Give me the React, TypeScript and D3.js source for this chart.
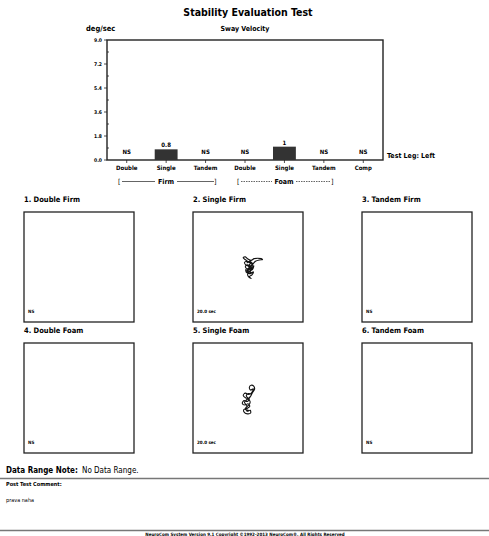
import React from "react";
import * as d3 from "d3";

const categories = ["Double", "Single", "Tandem", "Double", "Single", "Tandem", "Comp"];
const barValues: (number | null)[] = [null, 0.8, null, null, 1, null, null];
const barLabels = ["NS", "0.8", "NS", "NS", "1", "NS", "NS"];
const yTicks = [0, 1.8, 3.6, 5.4, 7.2, 9.0];
const yMinorTicks = [0.9, 2.7, 4.5, 6.3, 8.1];

const panelTitles = ["1. Double Firm", "2. Single Firm", "3. Tandem Firm", "4. Double Foam", "5. Single Foam", "6. Tandem Foam"];
const panelNotes = ["NS", "20.0 sec", "NS", "NS", "20.0 sec", "NS"];

const traceSingleFirm: [number, number][] = [
  [0, 0], [0.5, 0.6], [-0.3, 1.1], [-0.9, 1.6], [-1.5, 2.1], [-1.0, 2.3], [-0.4, 1.8], [0.3, 1.5],
  [1.0, 1.9], [1.8, 2.0], [2.6, 1.9], [2.9, 1.7], [2.2, 1.6], [1.3, 1.3], [0.8, 0.8], [0.2, 0.3],
  [-0.6, 0.5], [-1.0, 0.0], [-0.5, -0.4], [0.4, -0.2], [0.9, 0.3], [0.6, -0.6], [-0.2, -0.9],
  [-0.9, -0.6], [-0.7, -1.3], [0.1, -1.5], [0.8, -1.1], [0.5, -1.8], [-0.1, -2.2], [0.3, -2.6],
  [-0.2, -2.3], [-0.5, -1.7], [-0.1, -1.0], [0.4, -0.5], [-0.3, 0.2], [0.2, 0.9], [-0.6, 1.3],
  [-1.2, 1.0], [-0.8, 0.4], [0.1, 0.1], [0.6, -0.3], [-0.4, -0.7], [0.3, -1.2], [-0.6, -1.0],
  [-0.2, -0.2], [0.7, 0.5], [0.0, 1.3], [-0.7, 0.9],
];
const traceSingleFoam: [number, number][] = [
  [0, 0], [0.6, 0.8], [1.0, 1.6], [1.5, 2.4], [1.3, 3.1], [0.7, 3.3], [0.3, 2.8], [0.6, 2.2],
  [1.2, 2.5], [0.9, 1.7], [0.2, 1.2], [-0.6, 1.5], [-1.1, 1.0], [-0.5, 0.4], [0.3, 0.2],
  [-0.2, -0.4], [-0.9, -0.2], [-1.3, -0.8], [-0.7, -1.2], [0.0, -0.9], [0.4, -1.5], [-0.3, -2.0],
  [-1.0, -2.3], [-0.8, -2.9], [-0.1, -3.2], [0.6, -3.0], [0.5, -2.4], [-0.2, -2.6], [-0.5, -1.8],
  [0.2, -1.2], [0.5, -0.5], [0.1, 0.3], [-0.4, 0.9], [0.1, 1.4], [0.8, 1.2], [0.3, 0.5], [-0.3, 0.0],
  [-0.8, -0.6], [-0.2, -1.5], [-0.7, -2.1], [0.1, -2.4],
];
const traces: ([number, number][] | null)[] = [null, traceSingleFirm, null, null, traceSingleFoam, null];

const FONT = "'Liberation Sans Narrow', 'DejaVu Sans Condensed', 'Liberation Sans', sans-serif";

export default function App() {
  const W = 489, H = 536;
  const L = 107, R = 383, T = 40, B = 160;
  const x = d3.scaleBand<number>().domain(d3.range(categories.length)).range([L, R]).padding(0);
  const y = d3.scaleLinear().domain([0, 9]).range([B, T]);
  const barW = x.bandwidth() * 0.58;

  const panelXs = [24, 193, 362];
  const panelYs = [212, 343];
  const PS = 110;
  const px = d3.scaleLinear().domain([-12.5, 12.5]).range([0, PS]);
  const py = d3.scaleLinear().domain([-12.5, 12.5]).range([PS, 0]);
  const line = d3.line<[number, number]>().x(d => px(d[0])).y(d => py(d[1])).curve(d3.curveCatmullRom);
  const traceOffsets: [number, number][] = [[0, 0], [0.4, 0], [0, 0], [0, 0], [0, -0.4], [0, 0]];

  const cx = (i: number) => (x(i) as number) + x.bandwidth() / 2;

  return (
    <svg width={W} height={H} style={{ position: "absolute", left: 0, top: 0, background: "#fff" }} fontFamily={FONT}>
      <rect width={W} height={H} fill="#fff" />
      <text x={248} y={16} textAnchor="middle" fontSize={10.5} fontWeight="bold">Stability Evaluation Test</text>
      <text x={86} y={31} fontSize={7.5} fontWeight="bold">deg/sec</text>
      <text x={245} y={31} textAnchor="middle" fontSize={7} fontWeight="bold">Sway Velocity</text>

      {/* frame */}
      <rect x={L} y={T} width={R - L} height={B - T} fill="none" stroke="#222" strokeWidth={1.4} />
      {yTicks.map(t => (
        <g key={"yt" + t}>
          <line x1={L - 3} x2={L} y1={y(t)} y2={y(t)} stroke="#222" strokeWidth={0.8} />
          <text x={L - 5} y={y(t) + 1.8} textAnchor="end" fontSize={5} fontWeight="bold">{t.toFixed(1)}</text>
        </g>
      ))}
      {yMinorTicks.map(t => (
        <line key={"ym" + t} x1={L} x2={L + 2} y1={y(t)} y2={y(t)} stroke="#222" strokeWidth={0.8} />
      ))}
      {categories.map((c, i) => (
        <g key={"c" + i}>
          <line x1={cx(i)} x2={cx(i)} y1={B} y2={B + 3} stroke="#222" strokeWidth={0.8} />
          <text x={cx(i)} y={B + 10} textAnchor="middle" fontSize={6} fontWeight="bold">{c}</text>
          {barValues[i] !== null && (
            <rect x={cx(i) - barW / 2} y={y(barValues[i] as number)} width={barW} height={B - y(barValues[i] as number)} fill="#333" />
          )}
          <text x={cx(i)} y={barValues[i] !== null ? y(barValues[i] as number) - 2 : B - 6} textAnchor="middle" fontSize={6} fontWeight="bold">{barLabels[i]}</text>
        </g>
      ))}
      <text x={387} y={158} fontSize={7} fontWeight="bold">Test Leg: Left</text>

      {/* brackets */}
      <text x={118} y={184} fontSize={7}>[</text>
      <line x1={122} x2={155} y1={181.5} y2={181.5} stroke="#222" strokeWidth={0.7} />
      <text x={166} y={184} textAnchor="middle" fontSize={7} fontWeight="bold">Firm</text>
      <line x1={177} x2={214} y1={181.5} y2={181.5} stroke="#222" strokeWidth={0.7} />
      <text x={214} y={184} fontSize={7}>]</text>
      <text x={237} y={184} fontSize={7}>[</text>
      <line x1={241} x2={272} y1={181.5} y2={181.5} stroke="#222" strokeWidth={0.7} strokeDasharray="1.5,1" />
      <text x={284} y={184} textAnchor="middle" fontSize={7} fontWeight="bold">Foam</text>
      <line x1={296} x2={330} y1={181.5} y2={181.5} stroke="#222" strokeWidth={0.7} strokeDasharray="1.5,1" />
      <text x={331} y={184} fontSize={7}>]</text>

      {/* panels */}
      {panelTitles.map((t, i) => {
        const col = i % 3, row = Math.floor(i / 3);
        const X = panelXs[col], Y = panelYs[row];
        const tr = traces[i];
        const off = traceOffsets[i];
        return (
          <g key={"p" + i}>
            <text x={X} y={Y - 10} fontSize={7.5} fontWeight="bold">{t}</text>
            <rect x={X} y={Y} width={PS} height={PS} fill="none" stroke="#222" strokeWidth={1.3} />
            <text x={X + 4} y={Y + PS - 9} fontSize={4.5} fontWeight="bold">{panelNotes[i]}</text>
            {tr && (
              <g transform={`translate(${X + px(off[0]) - px(0)},${Y + py(off[1]) - py(0)})`}>
                <path d={line(tr) as string} fill="none" stroke="#111" strokeWidth={1.1} />
              </g>
            )}
          </g>
        );
      })}

      {/* bottom */}
      <text x={6} y={473} fontSize={8} fontWeight="bold">Data Range Note:</text>
      <text x={82} y={473} fontSize={8}>No Data Range.</text>
      <line x1={0} x2={489} y1={478.5} y2={478.5} stroke="#777" strokeWidth={1.5} />
      <text x={6} y={486} fontSize={5.5} fontWeight="bold">Post Test Comment:</text>
      <text x={6} y={502} fontSize={5.5}>prava naha</text>
      <line x1={0} x2={489} y1={530.5} y2={530.5} stroke="#777" strokeWidth={1.5} />
      <text x={245} y={535.5} textAnchor="middle" fontSize={4.5} fontWeight="bold">NeuroCom System Version 9.1  Copyright ©1992-2013 NeuroCom®, All Rights Reserved</text>
    </svg>
  );
}
